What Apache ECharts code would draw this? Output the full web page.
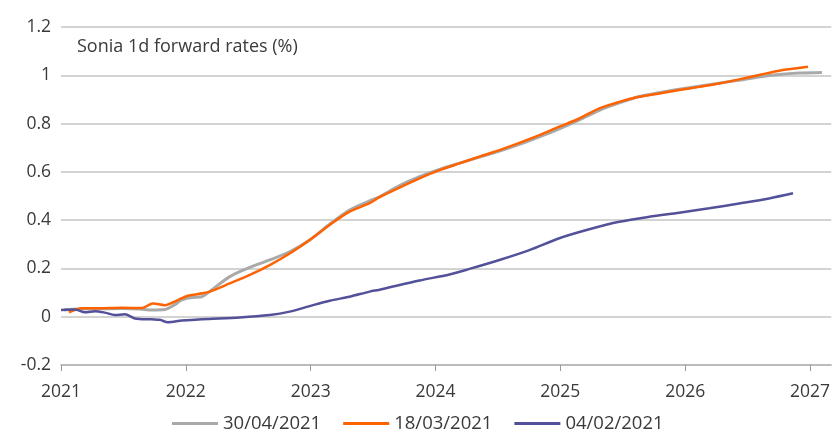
<!DOCTYPE html>
<html>
<head>
<meta charset="utf-8">
<script src="https://cdn.jsdelivr.net/npm/echarts@6/dist/echarts.min.js"></script>
<style>html,body{margin:0;padding:0;background:#fff}#c{width:833px;height:432px}</style>
</head>
<body>
<div id="c"></div>
<script>
var chartTitle = 'Sonia 1d forward rates (%)';
var seriesNames = ['30/04/2021', '18/03/2021', '04/02/2021'];
var yearTicks = [2021, 2022, 2023, 2024, 2025, 2026, 2027];

var grayX = [2021.024,2021.152,2021.312,2021.488,2021.632,2021.728,2021.832,2021.912,2021.968,2022.048,2022.128,2022.192,2022.352,2022.512,2022.672,2022.832,2022.992,2023.152,2023.312,2023.472,2023.552,2023.712,2023.872,2024.032,2024.192,2024.352,2024.512,2024.672,2024.832,2024.992,2025.152,2025.312,2025.472,2025.632,2025.792,2025.952,2026.112,2026.272,2026.432,2026.592,2026.752,2026.912,2027.096];
var grayY = [0.028,0.032,0.033,0.034,0.032,0.028,0.030,0.050,0.070,0.080,0.083,0.105,0.166,0.204,0.235,0.269,0.318,0.383,0.442,0.480,0.497,0.543,0.580,0.610,0.636,0.661,0.686,0.714,0.745,0.778,0.815,0.855,0.886,0.912,0.928,0.942,0.955,0.967,0.979,0.993,1.003,1.009,1.012];

var orangeX = [2021.064,2021.168,2021.312,2021.488,2021.648,2021.736,2021.832,2021.936,2022.016,2022.136,2022.192,2022.352,2022.512,2022.672,2022.832,2022.992,2023.152,2023.312,2023.472,2023.552,2023.712,2023.872,2024.032,2024.192,2024.352,2024.512,2024.672,2024.832,2024.992,2025.152,2025.312,2025.472,2025.632,2025.792,2025.952,2026.112,2026.272,2026.432,2026.592,2026.752,2026.984];
var orangeY = [0.018,0.035,0.035,0.037,0.036,0.055,0.048,0.069,0.087,0.097,0.104,0.138,0.173,0.214,0.262,0.318,0.380,0.435,0.470,0.495,0.535,0.573,0.607,0.635,0.663,0.690,0.720,0.752,0.787,0.821,0.863,0.890,0.911,0.925,0.939,0.952,0.966,0.983,1.001,1.019,1.035];

var purpleX = [2021.000,2021.112,2021.192,2021.272,2021.352,2021.432,2021.512,2021.592,2021.728,2021.792,2021.856,2021.968,2022.128,2022.432,2022.672,2022.832,2022.992,2023.152,2023.312,2023.472,2023.552,2023.872,2024.112,2024.272,2024.512,2024.752,2024.992,2025.232,2025.472,2025.712,2025.952,2026.192,2026.432,2026.672,2026.864];
var purpleY = [0.028,0.030,0.018,0.023,0.017,0.007,0.010,-0.007,-0.011,-0.013,-0.023,-0.016,-0.010,-0.003,0.007,0.021,0.044,0.066,0.083,0.104,0.112,0.150,0.175,0.198,0.235,0.276,0.325,0.362,0.393,0.414,0.431,0.449,0.469,0.490,0.511];

function pairs(xs, ys) { return xs.map(function (x, i) { return [x, ys[i]]; }); }

var FONT = 'Open Sans';
var TXT = '#3a3a3a';
var FS = 17.5;
var chart = echarts.init(document.getElementById('c'), null, {renderer: 'canvas'});
chart.setOption({
  animation: false,
  backgroundColor: '#ffffff',
  textStyle: {fontFamily: FONT},
  grid: {left: 61, right: 1, top: 27, bottom: 67},
  graphic: [{
    type: 'text', left: 77, top: 38,
    style: {text: chartTitle, fill: TXT, font: '18px "' + FONT + '"'}
  }],
  legend: {
    top: 414, left: 172, padding: 0, itemWidth: 46, itemHeight: 3, itemGap: 22,
    icon: 'rect',
    textStyle: {color: TXT, fontSize: 18.5, fontFamily: FONT, padding: [0, 0, 0, 0]},
    data: seriesNames
  },
  xAxis: [{
    type: 'value', position: 'bottom', min: 2021, max: 2027.17, interval: 1,
    axisLine: {show: false}, axisTick: {show: false}, splitLine: {show: false},
    axisLabel: {customValues: yearTicks, color: TXT, fontSize: FS, margin: 18, fontFamily: FONT,
      formatter: function (v) { return String(Math.round(v)); }}
  }, {
    type: 'value', position: 'bottom', min: 2021, max: 2027.17, interval: 1,
    axisLine: {show: true, onZero: true, lineStyle: {color: '#b4b4b4', width: 1.5}},
    axisTick: {show: true, length: 6, customValues: yearTicks, lineStyle: {color: '#9a9a9a', width: 1}},
    axisLabel: {show: false}, splitLine: {show: false}
  }],
  yAxis: {
    type: 'value', min: -0.2, max: 1.2, interval: 0.2,
    axisLine: {show: false}, axisTick: {show: false},
    splitLine: {show: true, lineStyle: {color: '#c4c4c4', width: 1.5}},
    axisLabel: {color: TXT, fontSize: FS, margin: 10, fontFamily: FONT}
  },
  series: [
    {name: seriesNames[0], type: 'line', xAxisIndex: 0, data: pairs(grayX, grayY), showSymbol: false, smooth: 0.3,
     lineStyle: {color: '#a9a9a9', width: 3}, itemStyle: {color: '#a9a9a9'}, z: 2},
    {name: seriesNames[1], type: 'line', xAxisIndex: 0, data: pairs(orangeX, orangeY), showSymbol: false, smooth: 0.3,
     lineStyle: {color: '#ff6200', width: 2.5}, itemStyle: {color: '#ff6200'}, z: 3},
    {name: seriesNames[2], type: 'line', xAxisIndex: 0, data: pairs(purpleX, purpleY), showSymbol: false, smooth: 0.3,
     lineStyle: {color: '#525199', width: 2.5}, itemStyle: {color: '#525199'}, z: 3}
  ]
});
</script>
</body>
</html>
